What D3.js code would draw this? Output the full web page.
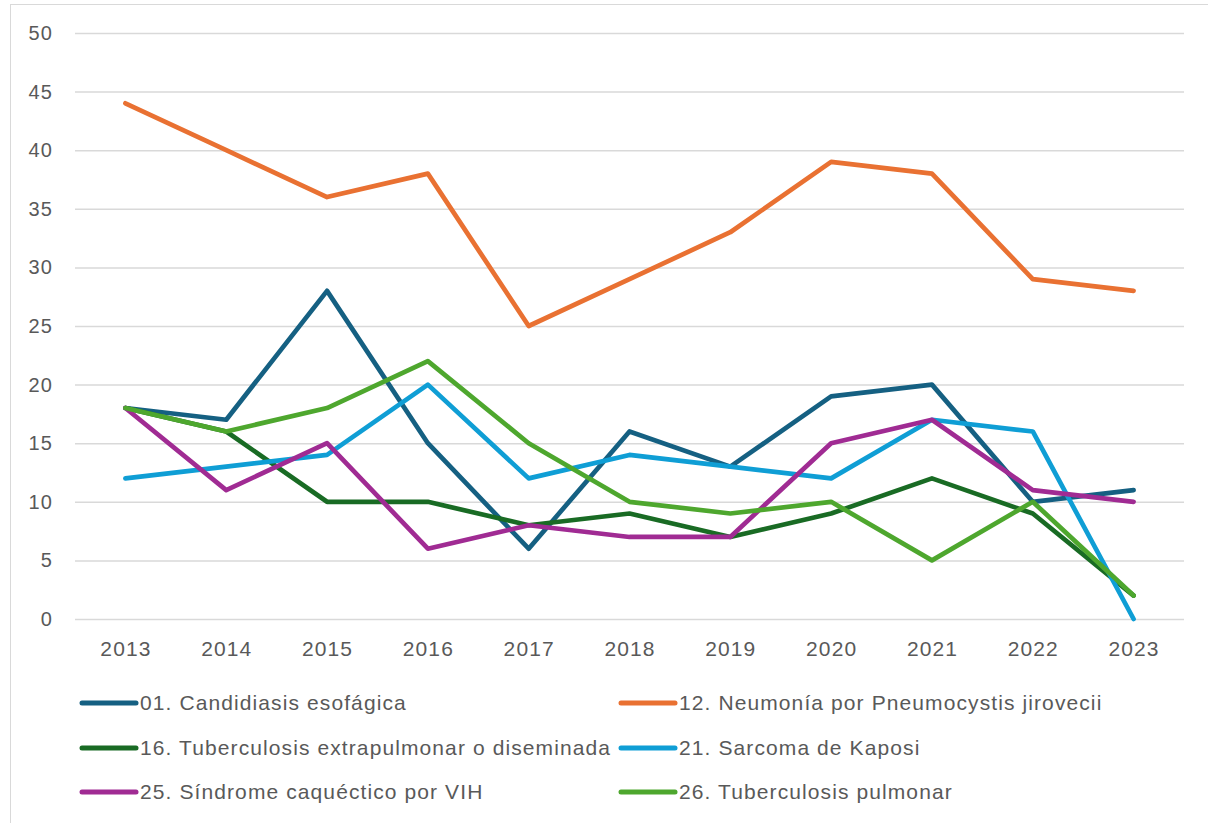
<!DOCTYPE html>
<html>
<head>
<meta charset="utf-8">
<script src="https://cdn.jsdelivr.net/npm/d3@7"></script>
<style>
  body { margin: 0; background: #fff; }
  svg text { font-family: "Liberation Sans", Arial, sans-serif; fill: #595959; letter-spacing: 1.1px; }
</style>
</head>
<body>
<div id="chart"></div>
<script>
var years = ["2013", "2014", "2015", "2016", "2017", "2018", "2019", "2020", "2021", "2022", "2023"];
var seriesNames = [
  "01. Candidiasis esofágica",
  "12. Neumonía por Pneumocystis jirovecii",
  "16. Tuberculosis extrapulmonar o diseminada",
  "21. Sarcoma de Kaposi",
  "25. Síndrome caquéctico por VIH",
  "26. Tuberculosis pulmonar"
];
var candidiasis = [18, 17, 28, 15, 6, 16, 13, 19, 20, 10, 11];
var neumonia = [44, 40, 36, 38, 25, 29, 33, 39, 38, 29, 28];
var tbExtrapulmonar = [18, 16, 10, 10, 8, 9, 7, 9, 12, 9, 2];
var sarcoma = [12, 13, 14, 20, 12, 14, 13, 12, 17, 16, 0];
var sindrome = [18, 11, 15, 6, 8, 7, 7, 15, 17, 11, 10];
var tbPulmonar = [18, 16, 18, 22, 15, 10, 9, 10, 5, 10, 2];
var yTicks = [0, 5, 10, 15, 20, 25, 30, 35, 40, 45, 50];

var colors = ["#156082", "#E97132", "#196B24", "#0F9ED5", "#A02B93", "#4EA72E"];
var seriesValues = [candidiasis, neumonia, tbExtrapulmonar, sarcoma, sindrome, tbPulmonar];

var series = seriesNames.map(function (name, i) {
  return { name: name, color: colors[i], values: seriesValues[i] };
});

var width = 1208, height = 823;
var margin = { top: 33, right: 24, bottom: 204, left: 75 };
var innerW = width - margin.left - margin.right;
var innerH = height - margin.top - margin.bottom;

var svg = d3.select("#chart").append("svg")
    .attr("width", width)
    .attr("height", height);

// outer chart border
svg.append("rect")
    .attr("x", 10.5).attr("y", 4.5)
    .attr("width", width + 20).attr("height", height + 20)
    .attr("fill", "none")
    .attr("stroke", "#d9d9d9")
    .attr("stroke-width", 1);

var g = svg.append("g")
    .attr("transform", "translate(" + margin.left + "," + margin.top + ")");

var x = d3.scalePoint()
    .domain(years)
    .range([0, innerW])
    .padding(0.5);

var y = d3.scaleLinear()
    .domain([0, 50])
    .range([innerH, 0]);

// gridlines + y labels
var yAxis = d3.axisLeft(y)
    .tickValues(yTicks)
    .tickSize(-innerW)
    .tickPadding(22);

var yg = g.append("g").call(yAxis);
yg.select(".domain").remove();
yg.selectAll(".tick line").attr("stroke", "#d9d9d9").attr("stroke-width", 1.5);
yg.selectAll(".tick text")
    .style("font-size", "20px")
    .attr("fill", "#595959");

// x labels
var xAxis = d3.axisBottom(x).tickSize(0).tickPadding(22);
var xg = g.append("g")
    .attr("transform", "translate(0," + innerH + ")")
    .call(xAxis);
xg.select(".domain").remove();
xg.selectAll(".tick text")
    .style("font-size", "21px")
    .attr("fill", "#595959");

var line = d3.line()
    .x(function (d, i) { return x(years[i]); })
    .y(function (d) { return y(d); });

g.selectAll("path.series")
    .data(series)
    .enter()
    .append("path")
    .attr("class", "series")
    .attr("d", function (d) { return line(d.values); })
    .attr("fill", "none")
    .attr("stroke", function (d) { return d.color; })
    .attr("stroke-width", 4.7)
    .attr("stroke-linejoin", "round")
    .attr("stroke-linecap", "round");

// legend, two columns
var legendX = [82, 621];
var legendY = [703, 748, 792];

var legend = svg.selectAll("g.legend")
    .data(series)
    .enter()
    .append("g")
    .attr("class", "legend")
    .attr("transform", function (d, i) {
      return "translate(" + legendX[i % 2] + "," + legendY[Math.floor(i / 2)] + ")";
    });

legend.append("line")
    .attr("x1", 0).attr("x2", 54)
    .attr("y1", 0).attr("y2", 0)
    .attr("stroke", function (d) { return d.color; })
    .attr("stroke-width", 5)
    .attr("stroke-linecap", "round");

legend.append("text")
    .attr("x", 58)
    .attr("dy", "0.35em")
    .style("font-size", "21px")
    .text(function (d) { return d.name; });
</script>
</body>
</html>
